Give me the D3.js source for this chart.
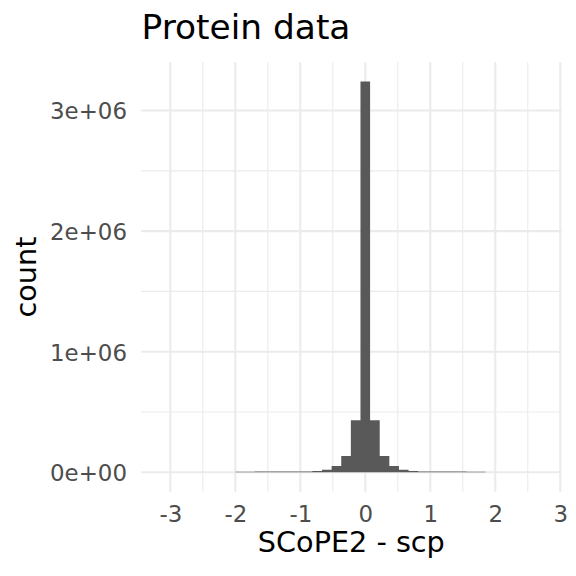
<!DOCTYPE html>
<html>
<head>
<meta charset="utf-8">
<script src="https://cdn.jsdelivr.net/npm/d3@7"></script>
<style>
  html, body { margin: 0; padding: 0; background: #fff; }
  svg { display: block; font-family: "DejaVu Sans", sans-serif; }
</style>
</head>
<body>
<svg id="chart" width="576" height="576"></svg>
<script>
// ---- data ----
const binWidth = 0.148;
const binCenterIndex = [-13,-12,-11,-10,-9,-8,-7,-6,-5,-4,-3,-2,-1,0,1,2,3,4,5,6,7,8,9,10,11,12];
const binCounts = [5000,5000,5500,5500,6000,6000,6500,7000,10000,20000,52000,135000,432000,3240000,432000,135000,52000,20000,10000,7000,6500,6000,6000,5500,5000,5000];
const xTicks = [-3,-2,-1,0,1,2,3];
const xTickLabels = ["-3","-2","-1","0","1","2","3"];
const xMinor = [-2.5,-1.5,-0.5,0.5,1.5,2.5];
const yTicks = [0,1e6,2e6,3e6];
const yTickLabels = ["0e+00","1e+06","2e+06","3e+06"];
const yMinor = [0.5e6,1.5e6,2.5e6];
const titleText = "Protein data";
const xTitle = "SCoPE2 - scp";
const yTitle = "count";

// ---- layout ----
const panel = {left: 141, right: 561.7, top: 62.3, bottom: 491.7};
const svg = d3.select("#chart");

const x = d3.scaleLinear().domain([-3.451, 3.022]).range([panel.left, panel.right]);
const y = d3.scaleLinear().domain([-161000, 3400000]).range([panel.bottom, panel.top]);

const grid = svg.append("g");
// minor grid
grid.selectAll(".xminor").data(xMinor).enter().append("line")
  .attr("x1", d => x(d)).attr("x2", d => x(d))
  .attr("y1", panel.top).attr("y2", panel.bottom)
  .attr("stroke", "#EBEBEB").attr("stroke-width", 1.1);
grid.selectAll(".yminor").data(yMinor).enter().append("line")
  .attr("y1", d => y(d)).attr("y2", d => y(d))
  .attr("x1", panel.left).attr("x2", panel.right)
  .attr("stroke", "#EBEBEB").attr("stroke-width", 1.1);
// major grid
grid.selectAll(".xmajor").data(xTicks).enter().append("line")
  .attr("x1", d => x(d)).attr("x2", d => x(d))
  .attr("y1", panel.top).attr("y2", panel.bottom)
  .attr("stroke", "#EBEBEB").attr("stroke-width", 2.1);
grid.selectAll(".ymajor").data(yTicks).enter().append("line")
  .attr("y1", d => y(d)).attr("y2", d => y(d))
  .attr("x1", panel.left).attr("x2", panel.right)
  .attr("stroke", "#EBEBEB").attr("stroke-width", 2.1);

// bars: drawn as one seamless step outline through the scales
const bins = binCenterIndex.map((k, i) => ({x0: (k - 0.5) * binWidth, x1: (k + 0.5) * binWidth, n: binCounts[i]}));
const p = d3.path();
p.moveTo(x(bins[0].x0), y(0));
bins.forEach(b => {
  p.lineTo(x(b.x0), y(b.n));
  p.lineTo(x(b.x1), y(b.n));
});
p.lineTo(x(bins[bins.length - 1].x1), y(0));
p.closePath();
svg.append("path").attr("d", p.toString()).attr("fill", "#595959");

// axes (labels only, theme_minimal has no ticks / axis lines)
const xAxis = d3.axisBottom(x).tickValues(xTicks).tickFormat((d, i) => xTickLabels[i]).tickSize(0).tickPadding(0);
const gx = svg.append("g").attr("transform", `translate(0,${panel.bottom})`).call(xAxis);
gx.select(".domain").remove();
gx.selectAll("text").attr("font-size", 22.9).attr("fill", "#4D4D4D")
  .attr("font-family", "DejaVu Sans").attr("dy", null).attr("y", 30);

const yAxis = d3.axisLeft(y).tickValues(yTicks).tickFormat((d, i) => yTickLabels[i]).tickSize(0).tickPadding(0);
const gy = svg.append("g").attr("transform", `translate(127,0)`).call(yAxis);
gy.select(".domain").remove();
gy.selectAll("text").attr("font-size", 22.9).attr("fill", "#4D4D4D")
  .attr("font-family", "DejaVu Sans").attr("dy", null).attr("x", 0).attr("y", 8.4);

// titles
svg.append("text").attr("x", 141.5).attr("y", 38.5)
  .attr("font-size", 34.4).attr("fill", "#000").text(titleText);
svg.append("text").attr("x", (panel.left + panel.right) / 2).attr("y", 551.7)
  .attr("text-anchor", "middle").attr("font-size", 28.7).attr("fill", "#000").text(xTitle);
svg.append("text")
  .attr("transform", `translate(35.5,${(panel.top + panel.bottom) / 2}) rotate(-90)`)
  .attr("text-anchor", "middle").attr("font-size", 28.7).attr("fill", "#000").text(yTitle);
</script>
</body>
</html>
